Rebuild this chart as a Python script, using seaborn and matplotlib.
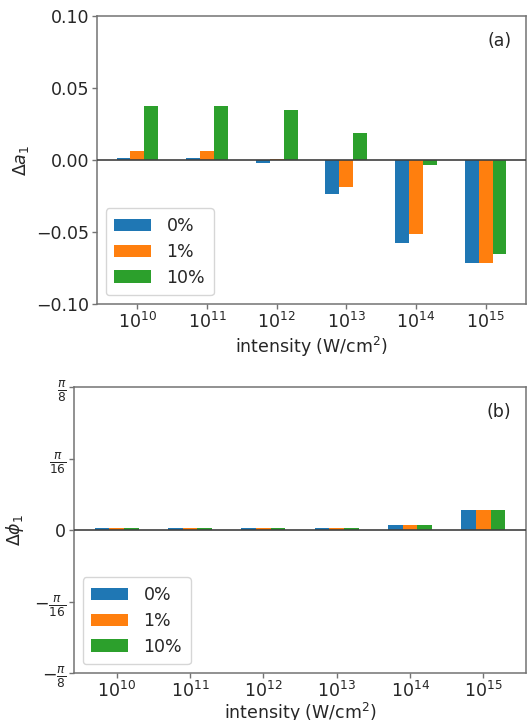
import numpy as np
import pandas as pd
import matplotlib
matplotlib.use("Agg")
import matplotlib.pyplot as plt
import seaborn as sns

# intensity categories (W/cm^2) and impurity levels
intensities = ["1e10", "1e11", "1e12", "1e13", "1e14", "1e15"]
tick_labels = [r"$10^{10}$", r"$10^{11}$", r"$10^{12}$", r"$10^{13}$", r"$10^{14}$", r"$10^{15}$"]
levels = ["0%", "1%", "10%"]

# amplitude change Δa1 for each impurity level
da1_0 = [0.0012, 0.0012, -0.0020, -0.0236, -0.0576, -0.0715]
da1_1 = [0.0060, 0.0060, 0.0010, -0.0188, -0.0514, -0.0715]
da1_10 = [0.0373, 0.0373, 0.0345, 0.0185, -0.0035, -0.0653]

# phase change Δφ1 (radians) for each impurity level
dphi_0 = [0.0063, 0.0063, 0.0063, 0.0063, 0.0128, 0.0557]
dphi_1 = [0.0063, 0.0063, 0.0063, 0.0063, 0.0128, 0.0557]
dphi_10 = [0.0063, 0.0063, 0.0063, 0.0063, 0.0128, 0.0557]

colors = ["#1f77b4", "#ff7f0e", "#2ca02c"]
FS = 12.5
TXT = "0.15"
EDGE = "0.45"

plt.rcParams.update({
    "font.family": ["DejaVu Sans"],
    "font.size": FS,
    "text.color": TXT,
    "axes.labelcolor": TXT,
    "xtick.color": EDGE,
    "ytick.color": EDGE,
    "xtick.labelcolor": TXT,
    "ytick.labelcolor": TXT,
    "axes.edgecolor": EDGE,
    "axes.linewidth": 1.1,
})


def long_table(series):
    rows = []
    for lvl, vals in zip(levels, series):
        for cat, v in zip(intensities, vals):
            rows.append({"intensity": cat, "level": lvl, "value": v})
    return pd.DataFrame(rows)


df_a = long_table([da1_0, da1_1, da1_10])
df_p = long_table([dphi_0, dphi_1, dphi_10])

fig = plt.figure(figsize=(5.3, 7.2), dpi=100)
ax1 = fig.add_axes([97 / 530, 1 - 304 / 720, 429 / 530, 288 / 720])
ax2 = fig.add_axes([74 / 530, 1 - 673 / 720, 452 / 530, 286 / 720])

for ax, df in ((ax1, df_a), (ax2, df_p)):
    sns.barplot(data=df, x="intensity", y="value", hue="level", hue_order=levels,
                order=intensities, palette=colors, width=0.6, saturation=1,
                linewidth=0, errorbar=None, ax=ax)
    ax.axhline(0, color="0.25", lw=1.2, zorder=3)
    ax.set_xlim(-0.58, 5.58)
    ax.set_xticks(range(len(intensities)))
    ax.set_xticklabels(tick_labels, fontsize=FS)
    ax.tick_params(axis="both", labelsize=FS, length=3.5, width=1.0, pad=2)
    for s in ax.spines.values():
        s.set_visible(True)
    ax.legend(loc="lower left", fontsize=FS, handlelength=2.1,
              labelspacing=0.45, borderpad=0.5, handletextpad=0.9)

ax1.set_xlabel(r"intensity (W/cm$^2$)", fontsize=FS, labelpad=2)
ax2.set_xlabel(r"intensity (W/cm$^2$)", fontsize=FS, labelpad=0)

ax1.set_ylim(-0.10, 0.10)
ax1.set_yticks([-0.10, -0.05, 0.00, 0.05, 0.10])
ax1.set_yticklabels(["\u22120.10", "\u22120.05", "0.00", "0.05", "0.10"])
ax1.set_ylabel(r"$\Delta a_1$", fontsize=FS, labelpad=4)
ax1.text(0.967, 0.945, "(a)", transform=ax1.transAxes, ha="right", va="top", fontsize=FS)

p = np.pi
ax2.set_ylim(-p / 8, p / 8)
ax2.set_yticks([-p / 8, -p / 16, 0, p / 16, p / 8])
ax2.set_yticklabels([r"$-\frac{\pi}{8}$", r"$-\frac{\pi}{16}$", "0",
                     r"$\frac{\pi}{16}$", r"$\frac{\pi}{8}$"])
ax2.set_ylabel(r"$\Delta\phi_1$", fontsize=FS, labelpad=6)
ax2.text(0.967, 0.945, "(b)", transform=ax2.transAxes, ha="right", va="top", fontsize=FS)

fig.savefig("out.png", dpi=100)
